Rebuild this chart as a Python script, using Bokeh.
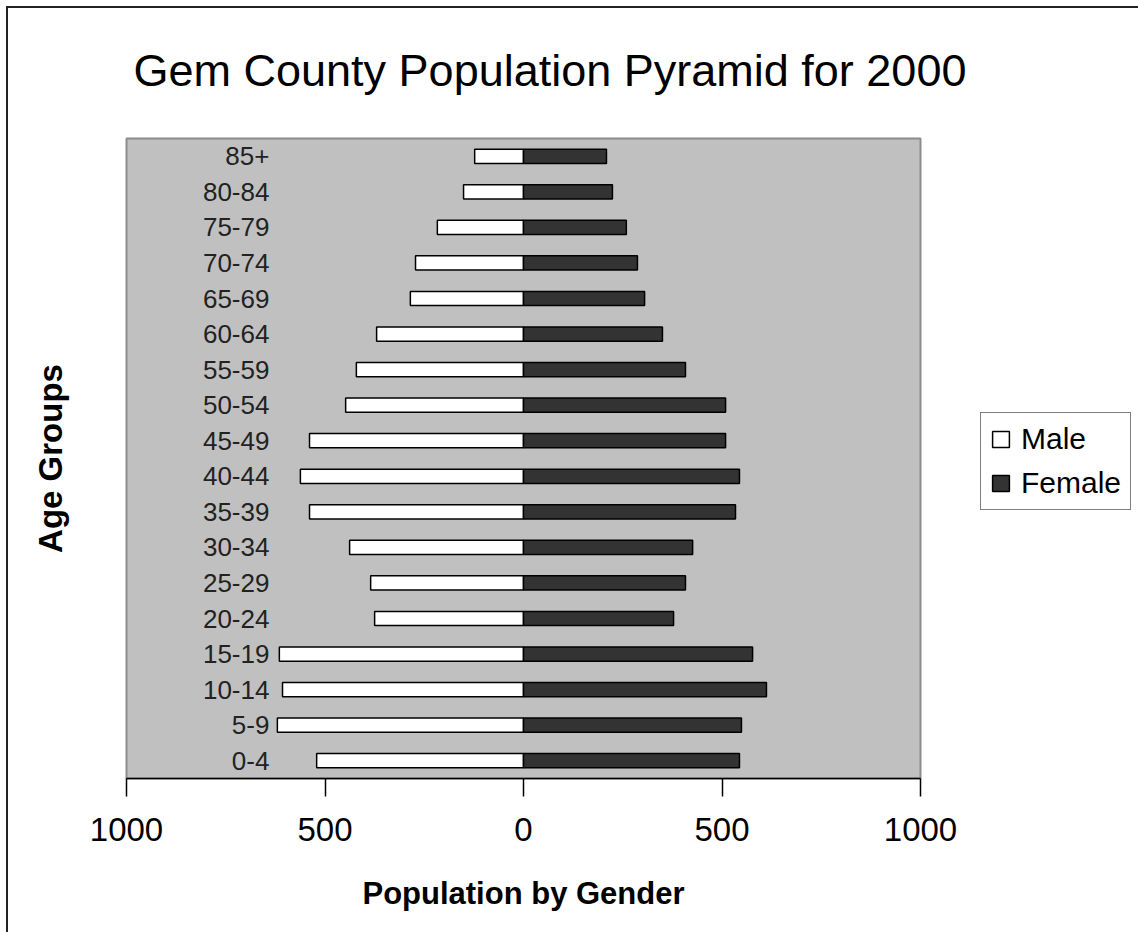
from bokeh.plotting import figure
from bokeh.models import (ColumnDataSource, Range1d, FactorRange, FixedTicker, Legend,
                          LegendItem)
from bokeh.embed import file_html
from bokeh.resources import INLINE
from bokeh.core.properties import value

# ---- data ----
age_groups = ["0-4", "5-9", "10-14", "15-19", "20-24", "25-29", "30-34", "35-39",
              "40-44", "45-49", "50-54", "55-59", "60-64", "65-69", "70-74",
              "75-79", "80-84", "85+"]
male = [521, 620, 607, 615, 375, 385, 438, 539, 562, 539, 448, 421, 370, 285, 272, 217, 151, 123]
female = [544, 549, 612, 577, 378, 408, 426, 534, 544, 509, 509, 408, 350, 305, 287, 259, 224, 209]
x_ticks = [-1000, -500, 0, 500, 1000]
x_tick_labels = ["1000", "500", "0", "500", "1000"]

FONT = "Liberation Sans"
LABEL_X = -640

src = ColumnDataSource(dict(
    age=age_groups,
    male_left=[-m for m in male],
    female=female,
    lx=[LABEL_X] * len(age_groups),
))

p = figure(
    frame_width=794, frame_height=640,
    x_range=Range1d(-1000, 1000),
    y_range=FactorRange(*age_groups, range_padding=0),
    output_backend="svg", toolbar_location=None,
    min_border_left=126, min_border_top=137, min_border_right=216, min_border_bottom=155,
    title="Gem County Population Pyramid for 2000",
)
# outer chart frame: only its left and top edges are visible in the reference
p.border_fill_alpha = 0
p.styles = {"background-color": "white",
            "box-shadow": "inset 6px 6px 0 0 white, inset 8px 8px 0 0 #222222"}

p.background_fill_color = "#c0c0c0"
p.outline_line_color = "#8c8c8c"
p.outline_line_width = 2
p.xgrid.visible = False
p.ygrid.visible = False

p.title.text_font = FONT
p.title.text_font_size = "45px"
p.title.text_font_style = "normal"
p.title.text_color = "black"
p.title.align = "left"
p.title.offset = 7
p.title.standoff = 85

r_m = p.hbar(y="age", left="male_left", right=0, height=0.4, source=src,
             fill_color="white", line_color="black", line_width=1.5)
r_f = p.hbar(y="age", left=0, right="female", height=0.4, source=src,
             fill_color="#333333", line_color="black", line_width=1.5)

p.text(x="lx", y="age", text="age", source=src, text_align="right", text_baseline="middle",
       text_font=value(FONT), text_font_size="26px", text_color="#222222")

# x axis
xa = p.xaxis[0]
xa.ticker = FixedTicker(ticks=x_ticks)
xa.major_label_overrides = {t: l for t, l in zip(x_ticks, x_tick_labels)}
xa.minor_tick_line_color = None
xa.major_tick_in = 0
xa.major_tick_out = 18
xa.major_tick_line_width = 1.5
xa.axis_line_width = 1.5
xa.axis_line_color = "black"
xa.major_tick_line_color = "black"
xa.major_label_text_font = FONT
xa.major_label_text_font_size = "33px"
xa.major_label_text_color = "black"
xa.major_label_standoff = 21
xa.axis_label = "Population by Gender"
xa.axis_label_text_font = FONT
xa.axis_label_text_font_size = "31px"
xa.axis_label_text_font_style = "bold"
xa.axis_label_text_color = "black"
xa.axis_label_standoff = 32

# y axis: categories are drawn inside the plot; the axis only carries its title
ya = p.yaxis[0]
ya.ticker = FixedTicker(ticks=[])
ya.axis_line_color = None
ya.major_tick_line_color = None
ya.minor_tick_line_color = None
ya.major_tick_out = 0
ya.axis_label = "Age Groups"
ya.axis_label_text_font = FONT
ya.axis_label_text_font_size = "33px"
ya.axis_label_text_font_style = "bold"
ya.axis_label_text_color = "black"
ya.axis_label_standoff = 58

legend = Legend(items=[LegendItem(label="Male", renderers=[r_m]),
                       LegendItem(label="Female", renderers=[r_f])],
                location=(60, 268), margin=0, padding=9, spacing=10,
                glyph_width=21, glyph_height=20, label_height=20, label_standoff=10,
                label_text_font=FONT, label_text_font_size="30px", label_text_color="black",
                border_line_color="black", border_line_width=1.5,
                background_fill_color="white", background_fill_alpha=1)
p.add_layout(legend, "right")

open("out.html", "w").write(file_html(p, INLINE))
